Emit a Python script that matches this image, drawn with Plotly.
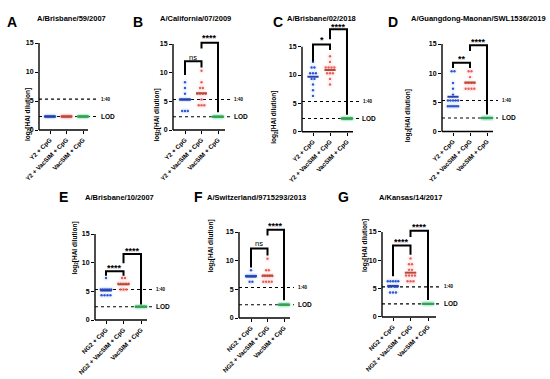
import numpy as np
import plotly.graph_objects as go

# ---------------- data ----------------
PANELS = ["A", "B", "C", "D", "E", "F", "G"]
STRAINS = ["A/Brisbane/59/2007", "A/California/07/2009", "A/Brisbane/02/2018",
           "A/Guangdong-Maonan/SWL1536/2019", "A/Brisbane/10/2007",
           "A/Switzerland/9715293/2013", "A/Kansas/14/2017"]
TOP_GROUPS = ["Y2 + CpG", "Y2 + VacSIM + CpG", "VacSIM + CpG"]
BOT_GROUPS = ["NG2 + CpG", "NG2 + VacSIM + CpG", "VacSIM + CpG"]
Y_TICKS = [0, 5, 10, 15]
LOD_TITER = 5
REF_TITER = 40

# HAI titers (reciprocal dilution) per panel, per group
A_vals = [[5] * 10, [5] * 10, [5] * 10]
B_vals = [[320, 160, 80, 40, 40, 40, 40, 40, 40, 10, 10, 10],
          [1280, 320, 160, 160, 80, 80, 80, 80, 40, 20, 20, 20],
          [5] * 10]
C_vals = [[5120, 2560, 2560, 1280, 1280, 1280, 640, 640, 320, 160, 80],
          [10240, 5120, 2560, 2560, 2560, 2560, 1280, 1280, 1280, 640, 320],
          [5] * 11]
D_vals = [[1280, 1280, 320, 160, 80, 40, 40, 40, 40, 40, 20, 20, 20, 20, 20, 20],
          [1280, 1280, 640, 320, 320, 320, 320, 160, 160, 160, 160],
          [5] * 11]
E_vals = [[160, 40, 40, 40, 40, 40, 40, 20, 20, 20, 20],
          [160, 160, 80, 80, 80, 80, 80, 40, 40, 40],
          [5] * 10]
F_vals = [[320, 160, 160, 160, 160, 160, 160, 160, 80, 80],
          [1280, 320, 320, 160, 160, 160, 160, 160, 80, 80, 80, 80],
          [5] * 10]
G_vals = [[80, 80, 80, 80, 80, 40, 40, 40, 40, 20, 20, 20],
          [1280, 640, 640, 320, 320, 160, 160, 160, 160, 80, 80, 80],
          [5] * 10]
VALUES = [A_vals, B_vals, C_vals, D_vals, E_vals, F_vals, G_vals]

# significance comparisons: (group a, group b, label)
SIG_LABELS = [[],
              [(0, 1, "ns"), (1, 2, "****")],
              [(0, 1, "*"), (1, 2, "****")],
              [(0, 1, "**"), (1, 2, "****")],
              [(0, 1, "****"), (1, 2, "****")],
              [(0, 1, "ns"), (1, 2, "****")],
              [(0, 1, "****"), (1, 2, "****")]]

# ---------------- layout config (pixels) ----------------
W, H = 550, 379
# L axis-left, c0 first cat, c2 last cat, R x-axis end, Dd dotted end, y0 px of 0, y15 px of 15
GEOM = [(39, 50, 83, 88, 97, 130, 43),
        (173, 185, 218, 225, 230, 130, 44),
        (302, 313, 347, 353, 359, 131.7, 46.7),
        (442, 453, 487, 493, 498, 131.5, 44),
        (95, 106, 141, 147, 152, 320, 234),
        (239, 251, 284, 290, 294, 318, 232),
        (382, 393, 428, 436, 440, 317, 232)]
LETTER_X = [5, 131, 271, 386, 57, 192, 336]
TITLE_X = [35, 158, 285, 548, 83, 205, 377]
TITLE_ANCHOR = ["left", "left", "left", "right", "left", "left", "left"]
YTITLE_X = [22, 150, 274, 414, 68, 210, 365]
# bracket geometry in data units: (top, left-leg bottom, right-leg bottom, label y)
BRACKETS = [[],
            [(12.0, 9.6, 10.9, 12.7), (15.2, 14.2, 3.1, 16.0)],
            [(15.4, 12.4, 14.4, 16.1), (18.1, 16.3, 3.0, 18.4)],
            [(11.8, 10.9, 10.9, 12.4), (14.8, 13.8, 2.9, 15.4)],
            [(8.5, 7.7, 7.7, 9.0), (11.5, 9.9, 2.7, 12.0)],
            [(12.1, 8.8, 10.9, 13.0), (15.4, 14.4, 3.1, 16.0)],
            [(12.6, 7.2, 11.0, 13.2), (15.2, 14.1, 3.0, 15.8)]]
YMAX = 20

PT_COLORS = ["#2f55d4", "#e8605a", "#3dae5e"]
MEAN_COLORS = ["#2a3fa8", "#b44a38", "#3e9e4a"]
HALO_COLORS = ["rgba(140,185,240,0.10)", "rgba(245,150,160,0.12)", "rgba(120,225,200,0.14)"]
FONT = "Liberation Sans, Arial, sans-serif"


def pxx(x):
    return x / W


def pxy(y):
    return 1 - y / H


fig = go.Figure()
shapes = []
annotations = []

for i, p in enumerate(PANELS):
    L, c0, c2, R, Dd, y0, y15 = GEOM[i]
    d = (c2 - c0) / 2.0
    xmin = -(c0 - L) / d
    xmax = 2 + (Dd - c2) / d
    s = (y0 - y15) / 15.0
    ytop_px = y0 - YMAX * s
    sfx = "" if i == 0 else str(i + 1)
    groups = TOP_GROUPS if i < 4 else BOT_GROUPS

    fig.layout["xaxis" + sfx] = dict(
        domain=[pxx(L), pxx(Dd)], range=[xmin, xmax], anchor="y" + sfx,
        showline=False, showgrid=False, zeroline=False, automargin=False,
        tickvals=[0, 1, 2], ticktext=["<b>%s</b>" % g for g in groups],
        ticks="outside", ticklen=3, tickwidth=1.2, tickcolor="black",
        tickangle=-45, tickfont=dict(size=6.3, family=FONT, color="black"),
        fixedrange=True)
    fig.layout["yaxis" + sfx] = dict(
        domain=[pxy(y0), pxy(ytop_px)], range=[0, YMAX], anchor="x" + sfx,
        showline=False, showgrid=False, zeroline=False, automargin=False,
        tickvals=Y_TICKS, ticktext=["<b>%d</b>" % t for t in Y_TICKS],
        ticks="outside", ticklen=3, tickwidth=1.2, tickcolor="black",
        tickfont=dict(size=7, family=FONT, color="black"), fixedrange=True)

    xr, yr = "x" + sfx, "y" + sfx
    # axis lines
    shapes.append(dict(type="line", xref=xr + " domain", yref=yr + " domain",
                       x0=0, x1=(R - L) / (Dd - L), y0=0, y1=0,
                       line=dict(color="black", width=1.4)))
    shapes.append(dict(type="line", xref=xr + " domain", yref=yr + " domain",
                       x0=0, x1=0, y0=0, y1=15 / YMAX,
                       line=dict(color="black", width=1.4)))
    # reference lines
    for t in (REF_TITER, LOD_TITER):
        shapes.append(dict(type="line", xref=xr, yref=yr, x0=xmin, x1=xmax,
                           y0=np.log2(t), y1=np.log2(t), layer="below",
                           line=dict(color="black", width=1.1, dash="dot")))
    annotations.append(dict(xref="paper", yref=yr, x=pxx(Dd + 2), y=np.log2(REF_TITER),
                            text="<b>1:40</b>", showarrow=False, xanchor="left",
                            font=dict(size=4.5, family=FONT, color="black")))
    annotations.append(dict(xref="paper", yref=yr, x=pxx(Dd + 1.5), y=np.log2(LOD_TITER),
                            text="<b>LOD</b>", showarrow=False, xanchor="left",
                            font=dict(size=6.5, family=FONT, color="black")))

    # data points, arranged in rows by value, and group means
    for g, titers in enumerate(VALUES[i]):
        logs = np.log2(np.array(titers, dtype=float))
        xs, ys = [], []
        for v in sorted(set(logs), reverse=True):
            k = int(np.sum(np.isclose(logs, v)))
            step = 0.17 if k < 2 else min(0.17, 0.6 / (k - 1))
            for j in range(k):
                xs.append(g + (j - (k - 1) / 2.0) * step)
                ys.append(v)
        fig.add_trace(go.Scatter(x=xs, y=ys, xaxis=xr, yaxis=yr, mode="markers",
                                 marker=dict(size=6, color=HALO_COLORS[g]),
                                 hoverinfo="skip", showlegend=False))
        fig.add_trace(go.Scatter(x=xs, y=ys, xaxis=xr, yaxis=yr, mode="markers",
                                 marker=dict(size=2.4, color=PT_COLORS[g]),
                                 showlegend=False))
        m = float(np.mean(logs))
        fig.add_trace(go.Scatter(x=[g - 0.33, g + 0.33], y=[m, m], xaxis=xr, yaxis=yr,
                                 mode="lines", line=dict(color=MEAN_COLORS[g], width=2),
                                 showlegend=False, hoverinfo="skip"))

    # significance brackets
    for (ga, gb, lab), (top, lb, rb, ly) in zip(SIG_LABELS[i], BRACKETS[i]):
        fig.add_trace(go.Scatter(x=[ga, ga, gb, gb], y=[lb, top, top, rb],
                                 xaxis=xr, yaxis=yr, mode="lines",
                                 line=dict(color="black", width=2),
                                 showlegend=False, hoverinfo="skip"))
        if lab == "ns":
            txt, fs = "ns", 7.5
        else:
            txt, fs = "<b>%s</b>" % lab, 9
        annotations.append(dict(xref=xr, yref=yr, x=(ga + gb) / 2.0, y=ly, text=txt,
                                showarrow=False, font=dict(size=fs, family=FONT, color="black")))

    # titles
    ty = 12 if i < 4 else 197
    annotations.append(dict(xref="paper", yref="paper", x=pxx(LETTER_X[i]), y=pxy(ty),
                            text="<b>%s</b>" % p, showarrow=False, xanchor="left",
                            font=dict(size=14, family=FONT, color="black")))
    annotations.append(dict(xref="paper", yref="paper", x=pxx(TITLE_X[i]), y=pxy(ty),
                            text="<b>%s</b>" % STRAINS[i], showarrow=False,
                            xanchor=TITLE_ANCHOR[i],
                            font=dict(size=7.5, family=FONT, color="black")))
    annotations.append(dict(xref="paper", yref="paper", x=pxx(YTITLE_X[i]),
                            y=pxy((y0 + y15) / 2.0), textangle=-90,
                            text="<b>log<sub>2</sub>[HAI dilution]</b>", showarrow=False,
                            font=dict(size=6.5, family=FONT, color="black")))

fig.update_layout(width=W, height=H, margin=dict(l=0, r=0, t=0, b=0, autoexpand=False),
                  paper_bgcolor="white", plot_bgcolor="white",
                  shapes=shapes, annotations=annotations, showlegend=False,
                  font=dict(family=FONT, color="black"))
fig.write_html("out.html", config={"displayModeBar": False},
               post_script="document.body.style.margin='0';")
